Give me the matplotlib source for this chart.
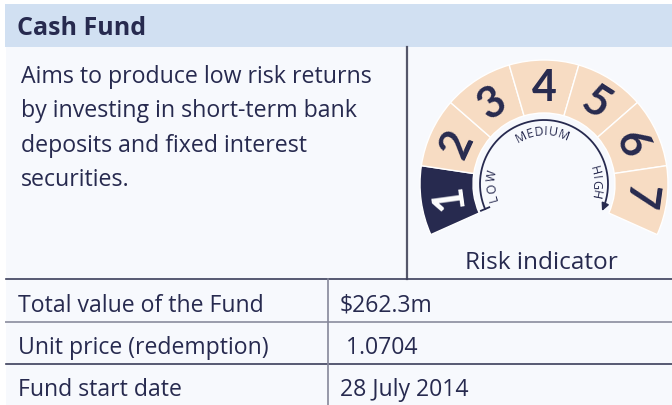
import numpy as np
import matplotlib
matplotlib.use("Agg")
import matplotlib.pyplot as plt
from matplotlib.patches import Rectangle, Wedge
from matplotlib.textpath import TextPath
from matplotlib.font_manager import FontProperties

# ---------------- data ----------------
title = "Cash Fund"
description = ["Aims to produce low risk returns",
               "by investing in short-term bank",
               "deposits and fixed interest",
               "securities."]
risk_levels = [1, 2, 3, 4, 5, 6, 7]
selected_risk = 1
scale_labels = ["LOW", "MEDIUM", "HIGH"]
risk_caption = "Risk indicator"
table_labels = ["Total value of the Fund", "Unit price (redemption)", "Fund start date"]
table_values = ["$262.3m", " 1.0704", "28 July 2014"]

# ---------------- style ----------------
W, H = 672, 405
NAVY = "#272a4f"
PEACH = "#f7dcc3"
HEADER = "#d1e0f2"
BODY = "#f7f9fd"
FONT = ["Open Sans", "DejaVu Sans"]
DIGIT_FONT = ["Lato", "DejaVu Sans"]

fig = plt.figure(figsize=(W / 100, H / 100), dpi=100)
ax = fig.add_axes([0, 0, 1, 1])
ax.set_xlim(0, W)
ax.set_ylim(0, H)
ax.axis("off")
fig.patch.set_facecolor("white")
renderer = fig.canvas.get_renderer()


def Y(y):
    return H - y


def fit_size(text, target_px, base=15.0, **kw):
    t = ax.text(0, 0, text, fontsize=base, family=FONT, **kw)
    w = t.get_window_extent(renderer).width
    t.remove()
    return base * target_px / w


# backgrounds
ax.add_patch(Rectangle((6, Y(405)), W - 6, 405 - 47, facecolor=BODY, edgecolor="none", zorder=0))
ax.add_patch(Rectangle((5, Y(47)), W - 5, 47 - 4, facecolor=HEADER, edgecolor="none", zorder=0))
fs_title = fit_size(title, 129, fontweight="bold")
ax.text(17, Y(35), title, fontsize=fs_title, fontweight="bold", color=NAVY, family=FONT,
        va="baseline", ha="left")

# description
fs_desc = fit_size(description[0], 350)
for i, line in enumerate(description):
    ax.text(21, Y(83.3 + i * 34.1), line, fontsize=fs_desc, color=NAVY, family=FONT,
            va="baseline", ha="left")

# dividers
ax.plot([407, 407], [Y(47), Y(279)], color="#55576a", lw=1.6, zorder=2)
ax.plot([6, W], [Y(279), Y(279)], color="#3b3e5a", lw=1.2, zorder=2)
ax.plot([6, W], [Y(322), Y(322)], color="#9a9cab", lw=1.4, zorder=2)
ax.plot([6, W], [Y(364), Y(364)], color="#3b3e5a", lw=1.2, zorder=2)
ax.plot([328, 328], [Y(279), Y(405)], color="#85879a", lw=1.2, zorder=2)

# table
fs_tab = fit_size(table_labels[0], 245)
row_base = [311.7, 354, 396]
for lab, val, yb in zip(table_labels, table_values, row_base):
    ax.text(18.5, Y(yb), lab, fontsize=fs_tab, color=NAVY, family=FONT, va="baseline", ha="left")
    ax.text(340, Y(yb), val, fontsize=fs_tab, color=NAVY, family=FONT, va="baseline", ha="left")

# ---------------- gauge ----------------
cx, cy = 544, Y(184)
R_out, R_in = 124, 71
seg = 32.6
start = 90 + seg * len(risk_levels) / 2
for i, lvl in enumerate(risk_levels):
    a1 = start - seg * (i + 1)
    a2 = start - seg * i
    fc = NAVY if lvl == selected_risk else PEACH
    ax.add_patch(Wedge((cx, cy), R_out, a1, a2, width=R_out - R_in, facecolor=fc,
                       edgecolor="white", lw=1.0, zorder=3))
    mid = np.deg2rad((a1 + a2) / 2)
    rr = 96
    tc = "white" if lvl == selected_risk else NAVY
    ax.text(cx + rr * np.cos(mid), cy + rr * np.sin(mid), str(lvl), fontsize=31,
            fontweight="bold", color=tc, family=DIGIT_FONT, ha="center", va="center",
            rotation=np.rad2deg(mid) - 90, rotation_mode="anchor", zorder=4)

# arrow arc
r_arc = 64
a_start, a_end = 203, -22
th = np.deg2rad(np.linspace(a_start, a_end, 200))
ax.plot(cx + r_arc * np.cos(th), cy + r_arc * np.sin(th), color=NAVY, lw=1.3, zorder=4)
ts = np.deg2rad(a_start)
ax.plot([cx + (r_arc - 4.5) * np.cos(ts), cx + (r_arc + 4.5) * np.cos(ts)],
        [cy + (r_arc - 4.5) * np.sin(ts), cy + (r_arc + 4.5) * np.sin(ts)],
        color=NAVY, lw=1.3, zorder=4)
te = np.deg2rad(a_end)
tip = np.array([cx + r_arc * np.cos(np.deg2rad(a_end - 3)), cy + r_arc * np.sin(np.deg2rad(a_end - 3))])
base = np.array([cx + r_arc * np.cos(te), cy + r_arc * np.sin(te)])
ax.annotate("", xy=tip, xytext=base,
            arrowprops=dict(arrowstyle="-|>,head_length=0.45,head_width=0.22", color=NAVY, lw=1.2,
                            shrinkA=0, shrinkB=0), zorder=5)

# curved labels, spaced by actual glyph widths
r_lab = 52
fs_lab = 9
tracking = 3.0  # px between letters
fp = FontProperties(family=FONT, size=fs_lab * 100 / 72)
label_centers = [181.6, 92.5, 2.0]
for word, ctr in zip(scale_labels, label_centers):
    widths = [TextPath((0, 0), ch, prop=fp).get_extents().width for ch in word]
    pos = []
    acc = 0.0
    for k, w in enumerate(widths):
        pos.append(acc + w / 2)
        acc += w + tracking
    total = acc - tracking
    for ch, p in zip(word, pos):
        ang = ctr + np.rad2deg((total / 2 - p) / r_lab)
        a = np.deg2rad(ang)
        ax.text(cx + r_lab * np.cos(a), cy + r_lab * np.sin(a), ch, fontsize=fs_lab,
                color=NAVY, family=FONT, ha="center", va="center",
                rotation=ang - 90, rotation_mode="anchor", zorder=4)

fs_cap = fit_size(risk_caption, 153)
ax.text(541.5, Y(269.3), risk_caption, fontsize=fs_cap, color=NAVY, family=FONT,
        ha="center", va="baseline")

fig.savefig("out.png", dpi=100, facecolor="white")
